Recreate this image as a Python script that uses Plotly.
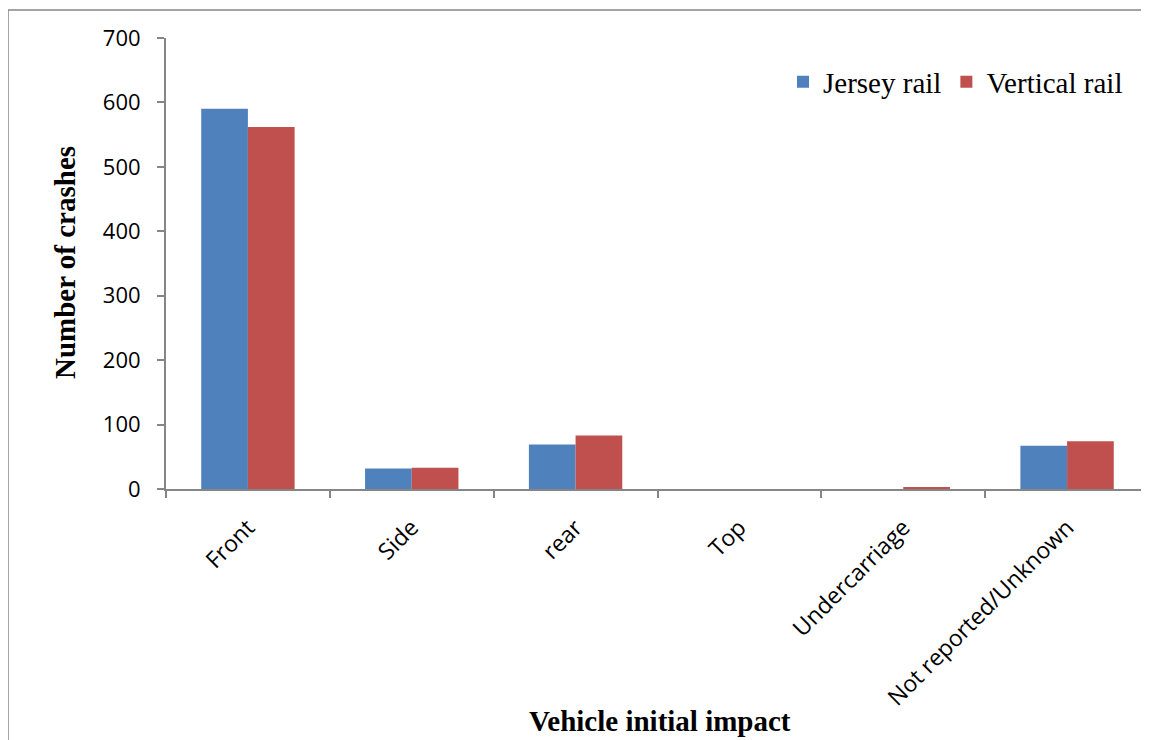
import plotly.graph_objects as go

categories = ["Front", "Side", "rear", "Top", "Undercarriage", "Not reported/Unknown"]
jersey_rail = [590, 32, 69, 0, 0, 67]
vertical_rail = [562, 33, 83, 0, 3, 74]
y_ticks = [0, 100, 200, 300, 400, 500, 600, 700]

# page body has an 8px offset; work in screenshot pixels and convert
OFF = 8
W, H = 1149 - OFF, 740 - OFF
ML, MR, MT, MB = 166 - OFF, 0, 38 - OFF, H - (489 - OFF)
PW = W - ML - MR
PH = H - MT - MB

def px_x(x):
    return (x - OFF - ML) / PW

def px_y(y):
    return (H - MB - (y - OFF)) / PH

fig = go.Figure()
fig.add_trace(go.Bar(name="Jersey rail", x=categories, y=jersey_rail,
                     marker=dict(color="#4F81BD", line=dict(width=0))))
fig.add_trace(go.Bar(name="Vertical rail", x=categories, y=vertical_rail,
                     marker=dict(color="#C0504D", line=dict(width=0))))

axis_col = "#868686"
fig.update_layout(
    width=W, height=H,
    margin=dict(l=ML, r=MR, t=MT, b=MB, autoexpand=False),
    paper_bgcolor="white", plot_bgcolor="white",
    barmode="group", bargap=0.43, bargroupgap=0,
    font=dict(family="Open Sans", color="black"),
    legend=dict(orientation="h", x=px_x(1128), xanchor="right", y=px_y(82), yanchor="middle",
                font=dict(family="Liberation Serif", size=29, color="black"),
                bgcolor="rgba(0,0,0,0)", traceorder="normal"),
    xaxis=dict(range=[-0.5, 5.5], showline=True, linecolor=axis_col, linewidth=2,
               ticks="outside", tickson="boundaries", ticklen=7, tickcolor=axis_col,
               tickwidth=2, tickangle=-45, tickfont=dict(size=23, family="Open Sans"),
               ticklabelstandoff=14,
               showgrid=False, zeroline=False, automargin=False),
    yaxis=dict(range=[0, 700], tickvals=y_ticks, showline=True, linecolor=axis_col,
               linewidth=2, ticks="outside", ticklen=7, tickcolor=axis_col, tickwidth=2,
               tickfont=dict(size=22, family="Open Sans"), ticklabelstandoff=12,
               showgrid=False, zeroline=False,
               automargin=False),
    annotations=[
        dict(text="<b>Number of crashes</b>", xref="paper", yref="paper",
             x=px_x(65), y=px_y(263), textangle=-90, showarrow=False,
             font=dict(family="Liberation Serif", size=29, color="black"),
             xanchor="center", yanchor="middle"),
        dict(text="<b>Vehicle initial impact</b>", xref="paper", yref="paper",
             x=px_x(660), y=px_y(721), showarrow=False,
             font=dict(family="Liberation Serif", size=29, color="black"),
             xanchor="center", yanchor="middle"),
    ],
    shapes=[
        dict(type="line", xref="paper", yref="paper", x0=px_x(8), x1=px_x(1170),
             y0=px_y(10), y1=px_y(10), line=dict(color=axis_col, width=1.5)),
        dict(type="line", xref="paper", yref="paper", x0=px_x(8), x1=px_x(8),
             y0=px_y(10), y1=px_y(770), line=dict(color=axis_col, width=1.5)),
    ],
)

fig.write_html("out.html")
